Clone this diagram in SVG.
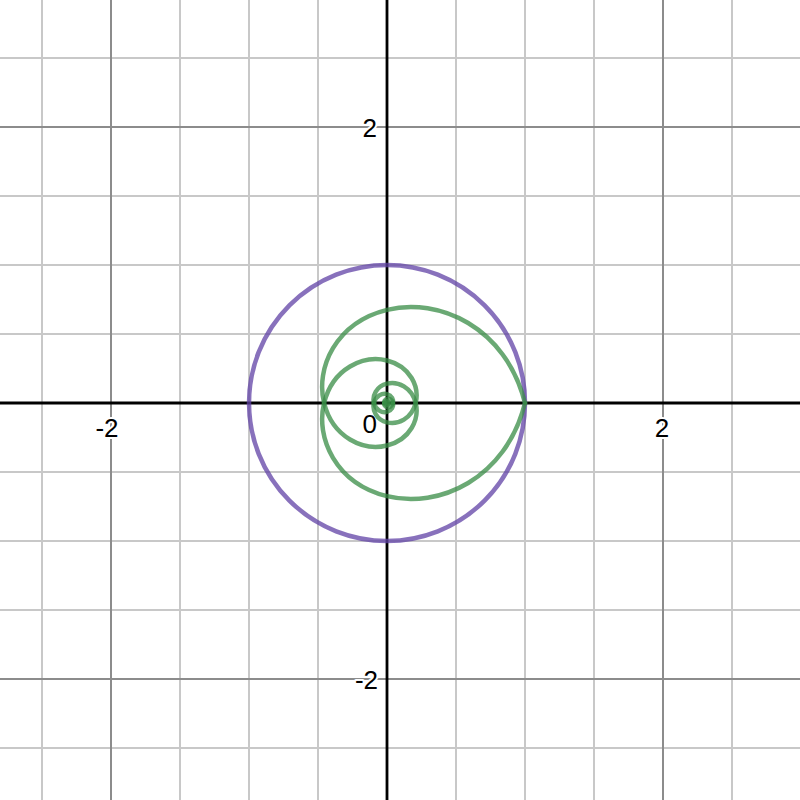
<svg xmlns="http://www.w3.org/2000/svg" width="800" height="800" viewBox="0 0 800 800">
<style>
.minor{stroke:#c8c8c8;stroke-width:2;fill:none}
.major{stroke:#8c8c8c;stroke-width:2;fill:none}
.axis{stroke:#000;stroke-width:2.8;fill:none}
.lbl{font-family:"Liberation Sans",Arial,sans-serif;font-size:26px;fill:#000;stroke:#fff;stroke-width:4;paint-order:stroke;stroke-linejoin:round}
.purple{fill:none;stroke:#6042a6;stroke-opacity:0.75;stroke-width:4.5}
.green{fill:none;stroke:#388c46;stroke-opacity:0.75;stroke-width:4.5;stroke-linejoin:round;stroke-linecap:round}
</style>
<rect width="800" height="800" fill="#fff"/>
<g id="grid">
<path class="minor" d="M42,0V800M180,0V800M249,0V800M318,0V800M456,0V800M525,0V800M594,0V800M732,0V800M0,58H800M0,196H800M0,265H800M0,334H800M0,472H800M0,541H800M0,610H800M0,748H800"/>
<path class="major" d="M111,0V800M663,0V800M0,127H800M0,679H800"/>
</g>
<g id="axes">
<path class="axis" d="M387,0V800M0,403H800"/>
</g>
<g id="labels">
<text class="lbl" x="377" y="137" text-anchor="end">2</text>
<text class="lbl" x="378" y="689" text-anchor="end">-2</text>
<text class="lbl" x="107" y="437" text-anchor="middle">-2</text>
<text class="lbl" x="662" y="437" text-anchor="middle">2</text>
<text class="lbl" x="377" y="433" text-anchor="end">0</text>
</g>
<g id="curves">
<circle id="unit-circle" class="purple" cx="387" cy="403" r="138"/>
<g id="spiral-a">
<path class="green" d="M525,403C505.95,326.78 438.46,296.95 387,309.82C335.54,322.68 315.39,368.25 324.08,403C332.77,437.75 363.54,451.35 387,445.49C410.47,439.62 419.65,418.84 415.69,403C411.73,387.16 397.70,380.95 387,383.63C376.30,386.30 372.11,395.78 373.92,403"/>
<path class="green" d="M373.92,403C375.73,410.22 382.12,413.05 387,411.83C391.88,410.61 393.79,406.29 392.96,403"/>
<path class="green" d="M392.96,403C392.14,399.71 389.22,398.42 387,398.97C384.78,399.53 383.91,401.50 384.28,403"/>
<path class="green" d="M384.28,403C384.66,404.50 385.99,405.09 387,404.84C388.01,404.58 388.41,403.69 388.24,403L387,403"/>
</g>
<g id="spiral-b">
<path class="green" d="M525,403C505.95,479.22 438.46,509.05 387,496.18C335.54,483.32 315.39,437.75 324.08,403C332.77,368.25 363.54,354.65 387,360.51C410.47,366.38 419.65,387.16 415.69,403C411.73,418.84 397.70,425.05 387,422.37C376.30,419.70 372.11,410.22 373.92,403"/>
<path class="green" d="M373.92,403C375.73,395.78 382.12,392.95 387,394.17C391.88,395.39 393.79,399.71 392.96,403"/>
<path class="green" d="M392.96,403C392.14,406.29 389.22,407.58 387,407.03C384.78,406.47 383.91,404.50 384.28,403"/>
<path class="green" d="M384.28,403C384.66,401.50 385.99,400.91 387,401.16C388.01,401.42 388.41,402.31 388.24,403L387,403"/>
</g>
</g>
</svg>
